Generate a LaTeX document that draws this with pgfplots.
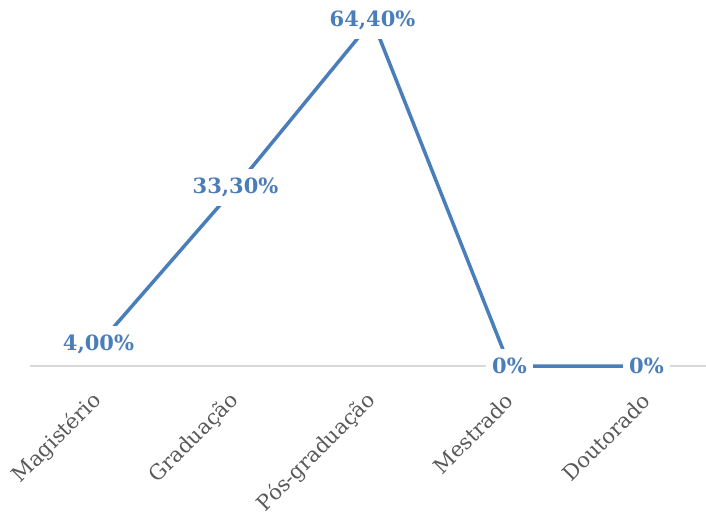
\documentclass[border=0pt]{standalone}
\usepackage{pgfplots}
\pgfplotsset{compat=1.18}
\usepackage{fontspec}
\setmainfont{DejaVu Serif}
\definecolor{lineblue}{HTML}{4A7EBB}
\definecolor{labgrey}{HTML}{595959}
\definecolor{axgrey}{HTML}{D9D9D9}
\begin{document}
\begin{tikzpicture}
\begin{axis}[
  scale only axis,
  width=676.8pt, height=357pt,
  xmin=-0.5, xmax=4.44,
  ymin=0, ymax=66.5,
  clip=false,
  axis x line=bottom,
  axis y line=none,
  x axis line style={draw=axgrey, line width=1.5pt, -},
  xtick={0,1,2,3,4},
  xticklabels={Magistério,Graduação,Pós-graduação,Mestrado,Doutorado},
  major tick length=0pt,
  xticklabel style={xshift=2pt, yshift=-29pt, rotate=45, anchor=east, font=\fontsize{21}{21}\selectfont, text=labgrey},
  ytick=\empty,
]
\coordinate (O) at (axis cs:-0.5,0);
\addplot[
  color=lineblue, line width=3.5pt, mark=none,
  point meta=explicit symbolic,
  nodes near coords,
  nodes near coords align={center},
  every node near coord/.style={anchor=center, fill=white, inner xsep=6pt, inner ysep=9pt, text=lineblue, font=\fontsize{21}{21}\selectfont\bfseries},
] coordinates {
  (0,4) [4,00\%]
  (1,33.3) [33,30\%]
  (2,64.4) [64,40\%]
  (3,0) [0\%]
  (4,0) [0\%]
};
\end{axis}
\pgfresetboundingbox
\path[use as bounding box] ([xshift=-30pt,yshift=-151pt]O) rectangle ([xshift=676pt,yshift=366pt]O);
\end{tikzpicture}
\end{document}
